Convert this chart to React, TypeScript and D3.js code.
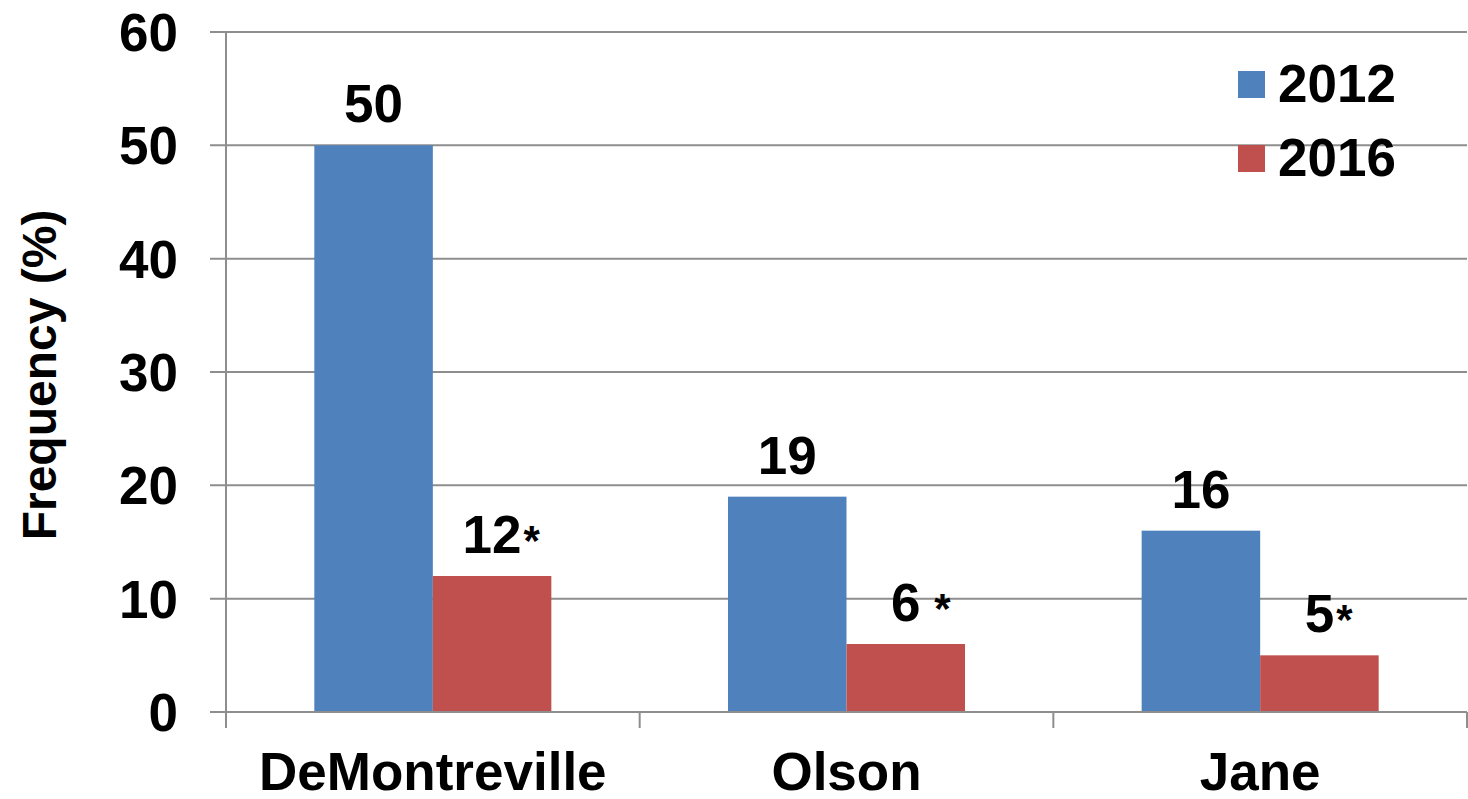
import * as d3 from "d3";

const categories = ["DeMontreville", "Olson", "Jane"];
const seriesNames = ["2012", "2016"];
const values2012 = [50, 19, 16];
const values2016 = [12, 6, 5];
const marks2016 = ["*", " *", "*"]; // significance markers after the 2016 labels
const yTicks = [0, 10, 20, 30, 40, 50, 60];
const colors = ["#4f81bd", "#c0504d"];

const WIDTH = 1468;
const HEIGHT = 799;
const LEFT = 226;
const RIGHT = 1467;
const TOP = 32;
const BOTTOM = 712;
const FONT = "'Liberation Sans', Arial, Helvetica, sans-serif";
const GRID = "#8e8e8e";

export default function App() {
  const y = d3.scaleLinear().domain([0, 60]).range([BOTTOM, TOP]);
  const x0 = d3.scaleBand<string>().domain(categories).range([LEFT, RIGHT]).padding(0);
  const bw = x0.bandwidth();
  const pair = bw * 0.573; // excel-style gap width
  const x1 = d3
    .scaleBand<string>()
    .domain(seriesNames)
    .range([(bw - pair) / 2, (bw + pair) / 2]);

  const series = [values2012, values2016];
  const labelSize = 53;

  return (
    <svg
      width={WIDTH}
      height={HEIGHT}
      style={{ position: "absolute", left: 0, top: 0, background: "#fff" }}
      fontFamily={FONT}
      fontWeight="bold"
    >
      {/* horizontal grid lines + left ticks */}
      {yTicks.map((t) => (
        <g key={t}>
          <line x1={LEFT - 16} x2={RIGHT} y1={y(t)} y2={y(t)} stroke={GRID} strokeWidth={2} />
          <text x={178} y={y(t)} dy="0.36em" textAnchor="end" fontSize={labelSize}>
            {t}
          </text>
        </g>
      ))}

      {/* y axis */}
      <line x1={LEFT} x2={LEFT} y1={TOP} y2={BOTTOM} stroke={GRID} strokeWidth={2} />

      {/* bars */}
      {categories.map((c, i) => (
        <g key={c} transform={`translate(${x0(c)},0)`}>
          {series.map((vals, s) => (
            <rect
              key={s}
              x={x1(seriesNames[s])}
              y={y(vals[i])}
              width={x1.bandwidth()}
              height={y(0) - y(vals[i])}
              fill={colors[s]}
            />
          ))}
          {series.map((vals, s) => {
            const cx = (x1(seriesNames[s]) as number) + x1.bandwidth() / 2;
            const txt = String(vals[i]);
            const half = (txt.length * 0.556 * labelSize) / 2;
            return (
              <g key={"l" + s}>
                <text x={cx} y={y(vals[i]) - 23} textAnchor="middle" fontSize={labelSize}>
                  {txt}
                </text>
                {s === 1 && (
                  <text
                    x={cx + half + 2}
                    y={y(vals[i]) - 21}
                    fontSize={42}
                    style={{ whiteSpace: "pre" }}
                  >
                    {marks2016[i]}
                  </text>
                )}
              </g>
            );
          })}
          <text x={bw / 2} y={790} textAnchor="middle" fontSize={labelSize}>
            {c}
          </text>
        </g>
      ))}

      {/* x axis */}
      <line x1={LEFT} x2={RIGHT} y1={BOTTOM} y2={BOTTOM} stroke={GRID} strokeWidth={2} />
      {[...categories.map((c) => x0(c) as number), RIGHT].map((tx, i) => (
        <line key={i} x1={tx} x2={tx} y1={BOTTOM} y2={BOTTOM + 16} stroke={GRID} strokeWidth={2} />
      ))}

      {/* y title */}
      <text transform={`translate(56,375) rotate(-90)`} textAnchor="middle" fontSize={48}>
        Frequency (%)
      </text>

      {/* legend */}
      {seriesNames.map((n, i) => (
        <g key={n} transform={`translate(1238,${71 + i * 74})`}>
          <rect width={27} height={27} fill={colors[i]} />
          <text x={40} y={31} fontSize={labelSize}>
            {n}
          </text>
        </g>
      ))}
    </svg>
  );
}
